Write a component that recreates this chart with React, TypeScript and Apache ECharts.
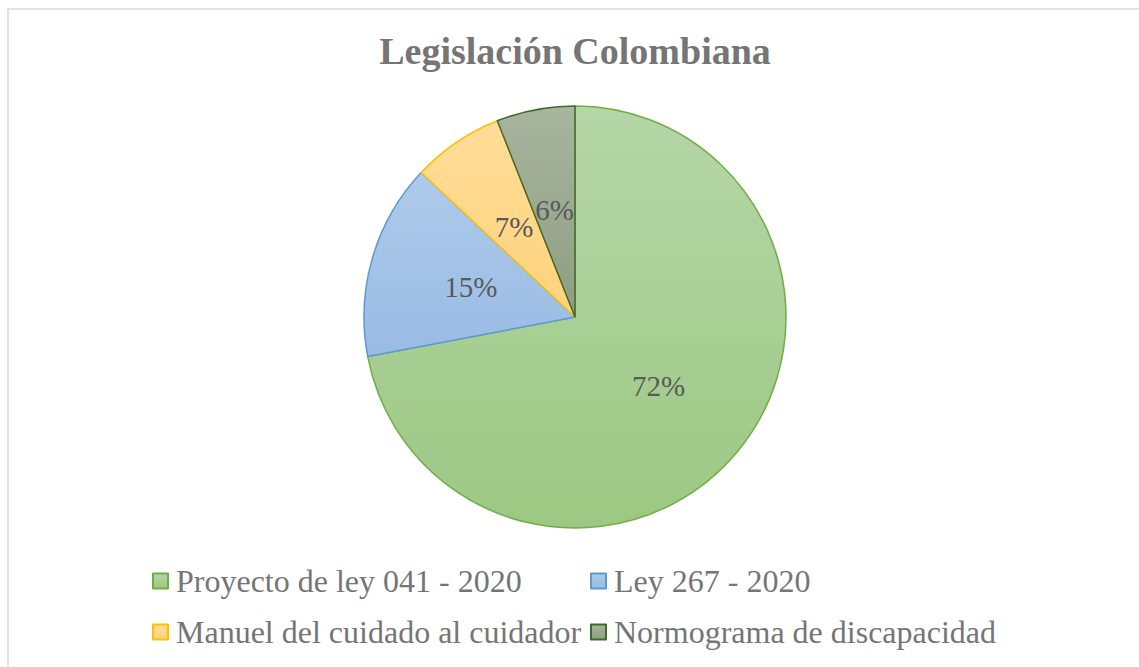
import React, { useEffect, useRef } from "react";
import * as echarts from "echarts";

const titleText = "Legislación Colombiana";
const categories = [
  "Proyecto de ley 041 - 2020",
  "Ley 267 - 2020",
  "Manuel del cuidado al cuidador",
  "Normograma de discapacidad",
];
const values = [72, 15, 7, 6];
const fillTop = ["#b5d6a7", "#adcaea", "#ffdc99", "#a8b59f"];
const fillBottom = ["#9cc883", "#9abbe4", "#ffd37c", "#8d9e81"];
const borderColors = ["#70ad47", "#5b9bd5", "#ffc000", "#43682b"];

const serif = '"Liberation Serif", "Times New Roman", Times, "DejaVu Serif", serif';

export default function App() {
  const ref = useRef<HTMLDivElement>(null);
  useEffect(() => {
    if (!ref.current) return;
    const chart = echarts.init(ref.current, undefined, { renderer: "svg" });
    const data = categories.map((name, i) => ({
      name,
      value: values[i],
      itemStyle: {
        color: new echarts.graphic.LinearGradient(0, 0, 0, 1, [
          { offset: 0, color: fillTop[i] },
          { offset: 1, color: fillBottom[i] },
        ]),
        borderColor: borderColors[i],
        borderWidth: 1.5,
      },
    }));
    const legendCommon = {
      orient: "vertical" as const,
      icon: "rect",
      itemWidth: 15,
      itemHeight: 15,
      itemGap: 15,
      top: 558,
      textStyle: {
        fontFamily: serif,
        fontSize: 32,
        color: "#757575",
        lineHeight: 36,
        padding: [0, 0, 0, 3],
      },
    };
    chart.setOption({
      animation: false,
      backgroundColor: "#ffffff",
      textStyle: { fontFamily: serif },
      graphic: [
        {
          type: "rect",
          shape: { x: 8, y: 9, width: 1200, height: 700 },
          style: { fill: "none", stroke: "#d9d9d9", lineWidth: 1.5 },
          silent: true,
        },
        {
          type: "text",
          x: 575,
          y: 51,
          style: {
            text: titleText,
            fontFamily: serif,
            fontWeight: "bold",
            fontSize: 38,
            fill: "#757575",
            textAlign: "center",
            textVerticalAlign: "middle",
          },
        },
      ],
      legend: [
        { ...legendCommon, left: 147, data: [categories[0], categories[2]] },
        { ...legendCommon, left: 585, data: [categories[1], categories[3]] },
      ],
      series: [
        {
          type: "pie",
          center: [575, 317],
          radius: 211,
          startAngle: 90,
          clockwise: true,
          data,
          label: {
            show: true,
            position: "inside",
            formatter: "{c}%",
            fontFamily: serif,
            fontSize: 29,
            color: "#595959",
          },
          labelLine: { show: false },
          emphasis: { disabled: true },
        },
      ],
    });
    return () => chart.dispose();
  }, []);
  return (
    <div
      ref={ref}
      style={{ position: "fixed", left: 0, top: 0, width: 1139, height: 667 }}
    />
  );
}
